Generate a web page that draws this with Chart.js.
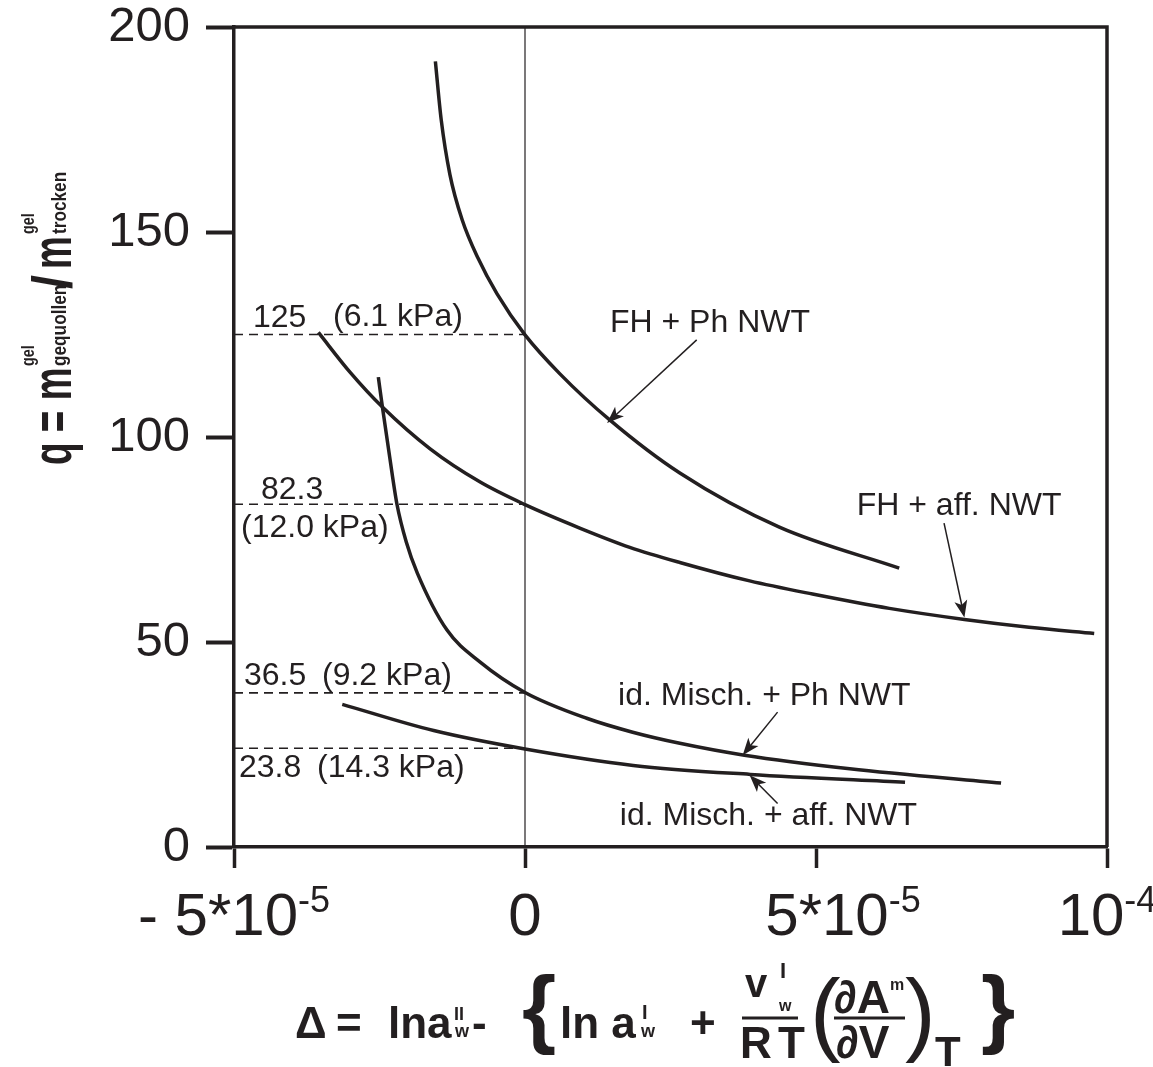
<!DOCTYPE html>
<html>
<head>
<meta charset="utf-8">
<script src="https://cdn.jsdelivr.net/npm/chart.js@4.4.1/dist/chart.umd.min.js"></script>
<style>
  body { margin: 0; background: #fff; }
  #wrap { width: 1153px; height: 1067px; }
</style>
</head>
<body>
<div id="wrap"><canvas id="chart" width="1153" height="1067"></canvas></div>
<script>
const INK = "#231f20";
const FONT = "'Liberation Sans', Arial, Helvetica, sans-serif";

// x values are Delta in units of 1e-5, y values are q
const fhPhX = [-1.54, -1.44, -1.29, -1.08, -0.81, -0.48, 0.00, 0.60, 1.46, 2.66, 4.37, 6.43];
const fhPhY = [191.6, 177.4, 164.0, 153.0, 143.7, 134.9, 124.9, 115.4, 104.1, 91.2, 78.0, 68.0];

const fhAffX = [-3.55, -3.00, -2.45, -1.63, -0.77, 0.00, 0.94, 1.80, 2.66, 3.86, 4.94, 6.26, 7.55, 8.66, 9.78];
const fhAffY = [125.5, 115.7, 107.3, 97.1, 89.0, 83.5, 77.8, 73.1, 69.4, 64.9, 61.7, 58.2, 55.5, 53.6, 52.1];

const idPhX = [-2.52, -2.45, -2.33, -2.20, -2.04, -1.85, -1.34, -0.77, 0.00, 1.06, 1.85, 2.66, 3.77, 5.58, 8.18];
const idPhY = [114.6, 107.3, 95.6, 83.6, 74.4, 66.8, 52.9, 45.1, 37.7, 31.4, 28.0, 25.3, 22.4, 19.1, 15.6];

const idAffX = [-3.14, -1.57, 0.00, 1.86, 3.87, 6.53];
const idAffY = [34.8, 28.4, 23.9, 19.9, 17.7, 15.8];

// q at Delta = 0 for each curve, shown as dashed guide lines
const levelQ = [125, 83.6, 37.6, 24.1];
const levelText = ["125", "82.3", "36.5", "23.8"];
const levelKpa = ["(6.1 kPa)", "(12.0 kPa)", "(9.2 kPa)", "(14.3 kPa)"];

const xTickValues = [-5, 0, 5, 10];
const xTickBase = ["- 5*10", "0", "5*10", "10"];
const xTickExp = ["-5", "", "-5", "-4"];

const curveNames = ["FH + Ph NWT", "FH + aff. NWT", "id. Misch. + Ph NWT", "id. Misch. + aff. NWT"];

function pts(xs, ys) {
    return xs.map((x, i) => ({ x: x, y: ys[i] }));
}

function curve(xs, ys) {
    return {
        data: pts(xs, ys),
        showLine: true,
        borderColor: INK,
        borderWidth: 3.5,
        pointRadius: 0,
        cubicInterpolationMode: "monotone"
    };
}

function dashed(q) {
    return {
        data: [{ x: -5, y: q }, { x: 0, y: q }],
        showLine: true,
        borderColor: INK,
        borderWidth: 1.6,
        borderDash: [9, 6],
        pointRadius: 0,
        tension: 0
    };
}

const datasets = [
    curve(fhPhX, fhPhY),
    curve(fhAffX, fhAffY),
    curve(idPhX, idPhY),
    curve(idAffX, idAffY),
    ...levelQ.map(dashed),
    {
        data: [{ x: 0, y: 0 }, { x: 0, y: 200 }],
        showLine: true,
        borderColor: INK,
        borderWidth: 1.2,
        pointRadius: 0,
        tension: 0
    }
];

// curve labels and arrows, in data units
const notes = [
    { text: 0, at: [1.46, 125.6], from: [2.95, 123.7], to: [1.41, 103.4] },
    { text: 1, at: [5.70, 81.0], from: [7.20, 79.0], to: [7.55, 56.0] },
    { text: 2, at: [1.60, 34.6], from: [4.34, 32.9], to: [3.74, 22.4] },
    { text: 3, at: [1.63, 5.25], from: [4.34, 10.6], to: [3.86, 17.5] }
];

// level label offsets in px: [value left, value dy, kPa left, kPa dy]
const levelPos = [
    [253, -8, 333, -9],
    [261, -5, 241, 33],
    [244, -8, 322, -8],
    [239, 29, 317, 29]
];
const xTickShift = [0, 0, 27, 0];

const B = s => `bold ${s}px ${FONT}`;
const R = s => `${s}px ${FONT}`;

function txt(ctx, s, x, y, font, sx = 1) {
    ctx.save();
    ctx.translate(x, y);
    ctx.scale(sx, 1);
    ctx.font = font;
    ctx.textAlign = "left";
    ctx.textBaseline = "alphabetic";
    ctx.fillText(s, 0, 0);
    const w = ctx.measureText(s).width * sx;
    ctx.restore();
    return x + w;
}

function arrow(ctx, x1, y1, x2, y2) {
    const a = Math.atan2(y2 - y1, x2 - x1);
    const L = 17, W = 6.5;
    const c = Math.cos(a), s = Math.sin(a);
    ctx.lineWidth = 1.5;
    ctx.beginPath();
    ctx.moveTo(x1, y1);
    ctx.lineTo(x2 - L * 0.7 * c, y2 - L * 0.7 * s);
    ctx.stroke();
    ctx.beginPath();
    ctx.moveTo(x2, y2);
    ctx.lineTo(x2 - L * c + W * s, y2 - L * s - W * c);
    ctx.lineTo(x2 - L * 0.75 * c, y2 - L * 0.75 * s);
    ctx.lineTo(x2 - L * c - W * s, y2 - L * s + W * c);
    ctx.closePath();
    ctx.fill();
}

function drawYTitle(ctx) {
    ctx.save();
    ctx.translate(71, 465);
    ctx.rotate(-Math.PI / 2);
    txt(ctx, "q = m", 0, 0, B(56), 0.66);
    txt(ctx, "gel", 99, -37, B(18), 0.8);
    txt(ctx, "gequollen", 99, -5, B(21), 0.82);
    txt(ctx, "/", 176, 0, B(56), 0.9);
    txt(ctx, "m", 196, 0, B(56), 0.66);
    txt(ctx, "gel", 231, -37, B(18), 0.8);
    txt(ctx, "trocken", 231, -5, B(21), 0.82);
    ctx.restore();
}

function drawXTitle(ctx) {
    const parts = [
        ["\u0394", 295, 1038, B(44)],
        ["=", 336, 1038, B(44)],
        ["lna", 388, 1038, B(44)],
        ["II", 454, 1020, B(18)],
        ["w", 455, 1037, B(18)],
        ["-", 472, 1038, B(44)],
        ["{", 522, 1037, B(88)],
        ["ln a", 560, 1038, B(44)],
        ["I", 642, 1019, B(20)],
        ["w", 641, 1037, B(18)],
        ["+", 690, 1038, B(44)],
        ["v", 745, 997, B(40)],
        ["I", 780, 978, B(22)],
        ["w", 779, 1011, B(16)],
        ["R", 740, 1058, B(44)],
        ["T", 778, 1058, B(44)],
        ["(", 810, 1044, R(92)],
        ["\u2202A", 834, 1013, B(46)],
        ["m", 890, 990, B(16)],
        ["\u2202V", 836, 1058, B(46)],
        [")", 905, 1044, R(92)],
        ["T", 935, 1066, B(42)],
        ["}", 981, 1037, B(88)]
    ];
    parts.forEach(p => txt(ctx, p[0], p[1], p[2], p[3]));
    ctx.fillRect(742, 1016.5, 56, 3);
    ctx.fillRect(834, 1016.5, 71, 3);
}

const decor = {
    id: "decor",
    afterDraw(chart) {
        const { ctx, chartArea: a, scales } = chart;
        const x = scales.x, y = scales.y;
        ctx.save();
        ctx.strokeStyle = INK;
        ctx.fillStyle = INK;

        ctx.lineWidth = 3.5;
        ctx.beginPath();
        ctx.moveTo(a.left - 1.5, a.top);
        ctx.lineTo(a.right, a.top);
        ctx.lineTo(a.right, a.bottom);
        ctx.stroke();

        xTickValues.forEach((v, i) => {
            const px = x.getPixelForValue(v) + xTickShift[i];
            ctx.font = R(60);
            const wb = ctx.measureText(xTickBase[i]).width;
            ctx.font = R(36);
            const we = ctx.measureText(xTickExp[i]).width;
            const left = px - (wb + we) / 2;
            const end = txt(ctx, xTickBase[i], left, 935, R(60));
            txt(ctx, xTickExp[i], end, 912, R(36));
        });

        levelQ.forEach((q, i) => {
            const py = y.getPixelForValue(q);
            const p = levelPos[i];
            txt(ctx, levelText[i], p[0], py + p[1], R(32));
            txt(ctx, levelKpa[i], p[2], py + p[3], R(32));
        });

        notes.forEach(n => {
            txt(ctx, curveNames[n.text], x.getPixelForValue(n.at[0]), y.getPixelForValue(n.at[1]), R(32));
            arrow(ctx,
                x.getPixelForValue(n.from[0]), y.getPixelForValue(n.from[1]),
                x.getPixelForValue(n.to[0]), y.getPixelForValue(n.to[1]));
        });

        drawYTitle(ctx);
        drawXTitle(ctx);
        ctx.restore();
    }
};

const chart = new Chart(document.getElementById("chart"), {
    type: "scatter",
    data: { datasets: datasets },
    options: {
        responsive: false,
        animation: false,
        layout: { padding: { left: 0, right: 46, top: 27, bottom: 0 } },
        plugins: {
            legend: { display: false },
            tooltip: { enabled: false },
            title: { display: false }
        },
        scales: {
            x: {
                type: "linear",
                min: -5,
                max: 10,
                afterBuildTicks: axis => {
                    axis.ticks = xTickValues.map(v => ({ value: v }));
                },
                afterFit: axis => {
                    axis.height = 220;
                    axis.paddingLeft = 0;
                    axis.paddingRight = 0;
                },
                ticks: { display: false },
                grid: {
                    drawOnChartArea: false,
                    drawTicks: true,
                    tickLength: 21,
                    tickWidth: 3.5,
                    tickColor: INK
                },
                border: { display: true, color: INK, width: 3.5 }
            },
            y: {
                min: 0,
                max: 200,
                afterFit: axis => {
                    axis.width = 234;
                    axis.paddingTop = 0;
                    axis.paddingBottom = 0;
                },
                ticks: {
                    stepSize: 50,
                    color: INK,
                    padding: 16,
                    font: { family: FONT, size: 49 }
                },
                grid: {
                    drawOnChartArea: false,
                    drawTicks: true,
                    tickLength: 28,
                    tickWidth: 4,
                    tickColor: INK
                },
                border: { display: true, color: INK, width: 3.5 }
            }
        }
    },
    plugins: [decor]
});
</script>
</body>
</html>
